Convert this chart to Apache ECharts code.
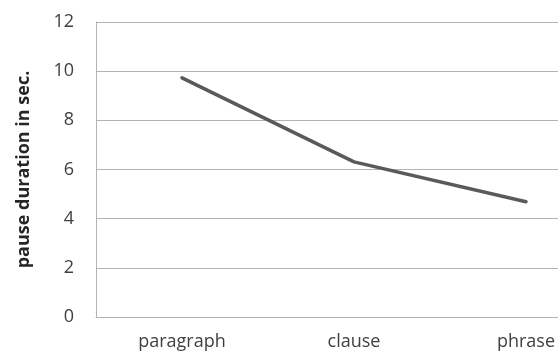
<!DOCTYPE html>
<html>
<head>
<meta charset="utf-8">
<script src="https://cdn.jsdelivr.net/npm/echarts@6/dist/echarts.min.js"></script>
<style>
  html, body { margin: 0; padding: 0; background: #fff; }
  #chart { width: 558px; height: 364px; }
</style>
</head>
<body>
<div id="chart"></div>
<script>
// Pause duration by text unit
const categories = ['paragraph', 'clause', 'phrase'];
const pauseDurations = [9.73, 6.31, 4.69];
const yTicks = { min: 0, max: 12, interval: 2 };
const yAxisTitle = 'pause duration in sec.';

const chart = echarts.init(document.getElementById('chart'));
const font = '"Open Sans", sans-serif';

chart.setOption({
  animation: false,
  backgroundColor: '#ffffff',
  grid: { left: 96, top: 22, width: 516, height: 295, containLabel: false, outerBoundsMode: 'none' },
  xAxis: {
    type: 'category',
    data: categories,
    boundaryGap: true,
    axisLine: { show: true, lineStyle: { color: '#b3b3b3', width: 1 } },
    axisTick: { show: false },
    axisLabel: { color: '#404040', fontFamily: font, fontSize: 18, margin: 16 }
  },
  yAxis: {
    type: 'value',
    min: yTicks.min,
    max: yTicks.max,
    interval: yTicks.interval,
    name: yAxisTitle,
    nameLocation: 'middle',
    nameGap: 63,
    nameTextStyle: { color: '#262626', fontFamily: font, fontSize: 18, fontWeight: 'bold' },
    axisLine: { show: true, lineStyle: { color: '#b3b3b3', width: 1 } },
    axisTick: { show: false },
    splitLine: { show: true, lineStyle: { color: '#b3b3b3', width: 1 } },
    axisLabel: { color: '#404040', fontFamily: font, fontSize: 18, margin: 22 }
  },
  series: [{
    type: 'line',
    data: pauseDurations,
    symbol: 'none',
    lineStyle: { color: '#5a5a5a', width: 3.5, cap: 'round' }
  }]
});
</script>
</body>
</html>
